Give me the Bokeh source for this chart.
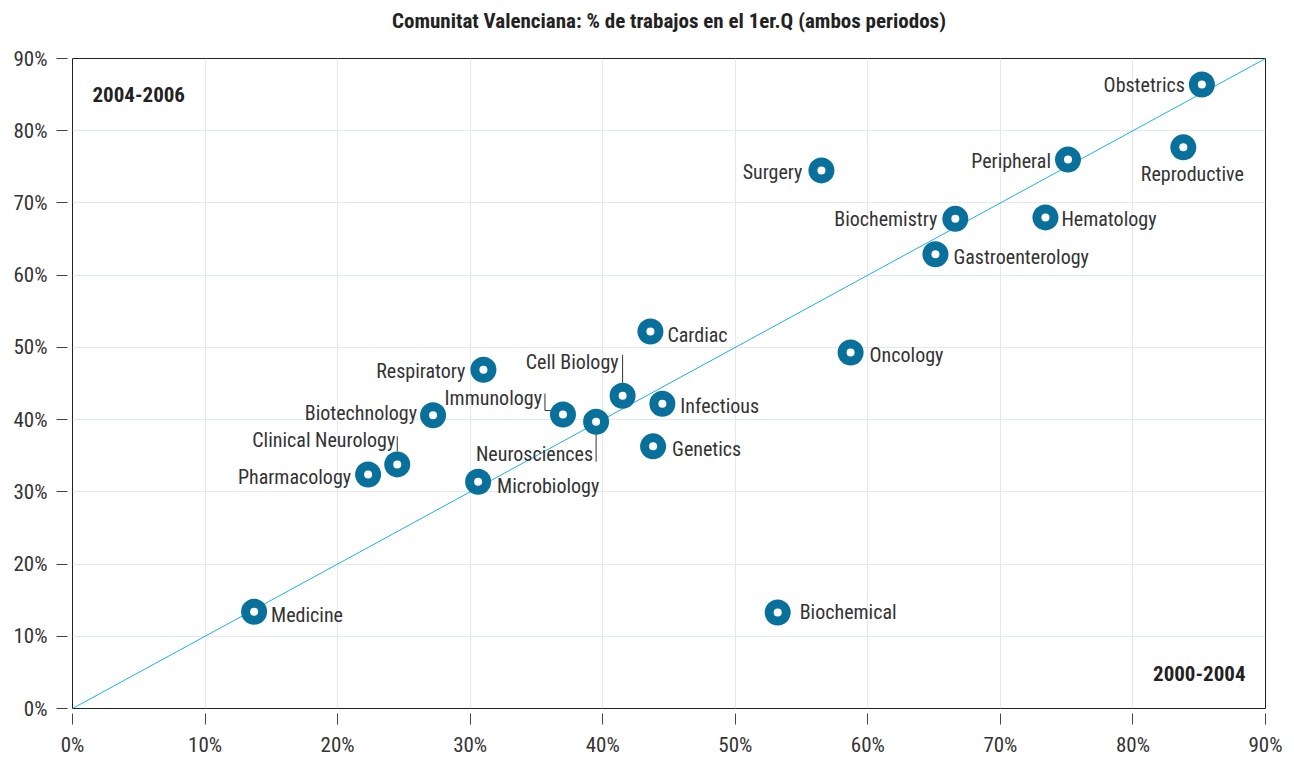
from bokeh.plotting import figure
from bokeh.models import ColumnDataSource, Range1d, FixedTicker, PrintfTickFormatter, Label, LinearAxis
from bokeh.core.properties import value
from bokeh.embed import file_html
from bokeh.resources import INLINE

FONT = "Liberation Sans Narrow, Roboto Condensed, Liberation Sans, sans-serif"

TITLE = "Comunitat Valenciana: % de trabajos en el 1er.Q (ambos periodos)"
names = ["Obstetrics", "Reproductive", "Peripheral", "Surgery", "Biochemistry", "Hematology",
         "Gastroenterology", "Cardiac", "Oncology", "Respiratory", "Cell Biology", "Infectious",
         "Immunology", "Biotechnology", "Neurosciences", "Genetics", "Clinical Neurology",
         "Pharmacology", "Microbiology", "Medicine", "Biochemical"]
x_2000_2004 = [85.2, 83.8, 75.1, 56.5, 66.6, 73.4, 65.1, 43.6, 58.7, 31.0, 41.5, 44.5,
               37.0, 27.2, 39.5, 43.8, 24.5, 22.3, 30.6, 13.7, 53.2]
y_2004_2006 = [86.4, 77.7, 76.0, 74.5, 67.8, 68.0, 62.9, 52.2, 49.3, 46.9, 43.3, 42.2,
               40.7, 40.6, 39.7, 36.3, 33.8, 32.4, 31.4, 13.4, 13.3]
ticks = [0, 10, 20, 30, 40, 50, 60, 70, 80, 90]

# label placement (pixel offsets and alignment) -- style only
label_pos = {
    "Obstetrics": (-17, 0, "right"), "Reproductive": (9, -27, "center"),
    "Peripheral": (-17, -1, "right"), "Surgery": (-19, -2, "right"),
    "Biochemistry": (-18, 0, "right"), "Hematology": (16, -2, "left"),
    "Gastroenterology": (18, -3, "left"), "Cardiac": (17, -3, "left"),
    "Oncology": (19, -3, "left"), "Respiratory": (-18, -1, "right"),
    "Cell Biology": (-4, 34, "right"), "Infectious": (18, -2, "left"),
    "Immunology": (-21, 17, "right"), "Biotechnology": (-16, 2, "right"),
    "Neurosciences": (-3, -32, "right"), "Genetics": (19, -3, "left"),
    "Clinical Neurology": (-2, 24, "right"), "Pharmacology": (-17, -2, "right"),
    "Microbiology": (19, -4, "left"), "Medicine": (17, -3, "left"),
    "Biochemical": (22, 0, "left"),
}

p = figure(width=1292, height=760, output_backend="svg", toolbar_location=None,
           x_range=Range1d(0, 90), y_range=Range1d(0, 90),
           min_border_left=72, min_border_right=27, min_border_top=58, min_border_bottom=52)
p.outline_line_color = "#222222"
p.outline_line_width = 1
p.background_fill_color = "white"
p.border_fill_color = "white"

bottom_axis = p.below[0]
left_axis = p.left[0]

for ax in (bottom_axis, left_axis):
    ax.ticker = FixedTicker(ticks=ticks)
    ax.formatter = PrintfTickFormatter(format="%d%%")
    ax.axis_line_color = None
    ax.major_tick_in = -5
    ax.major_tick_out = 16
    ax.major_tick_line_color = "#444444"
    ax.minor_tick_line_color = None
    ax.major_label_text_font = FONT
    ax.major_label_text_font_size = "21px"
    ax.major_label_text_color = "#333333"
bottom_axis.major_label_standoff = 8
left_axis.major_label_standoff = 9

# title drawn as the label of an empty axis above the frame
title_axis = LinearAxis(ticker=FixedTicker(ticks=[]), axis_line_color=None,
                        major_tick_line_color=None, minor_tick_line_color=None,
                        major_tick_in=0, major_tick_out=0,
                        major_label_text_font_size="0px", major_label_standoff=0,
                        axis_label=TITLE,
                        axis_label_text_font=FONT, axis_label_text_font_size="21px",
                        axis_label_text_font_style="bold", axis_label_text_color="#222222",
                        axis_label_standoff=26)
p.add_layout(title_axis, "above")

p.xgrid.grid_line_color = "#e3e8f4"
p.ygrid.grid_line_color = "#e3e8f4"
p.xgrid.ticker = FixedTicker(ticks=ticks)
p.ygrid.ticker = FixedTicker(ticks=ticks)

# diagonal
p.line([ticks[0], ticks[-1]], [ticks[0], ticks[-1]], line_color="#1cb0ea", line_width=1)

# leader lines (from point positions, with small offsets in data units)
idx = {n: i for i, n in enumerate(names)}
sx = 90 / 1193.0
sy = 90 / 650.0
def pt(n):
    i = idx[n]
    return x_2000_2004[i], y_2004_2006[i]
lines = []
x, y = pt("Cell Biology"); lines.append(([x, x], [y + 13 * sy, y + 41 * sy]))
x, y = pt("Immunology"); lines.append(([x - 12 * sx, x - 18 * sx, x - 18 * sx], [y + 4 * sy, y + 4 * sy, y + 21 * sy]))
x, y = pt("Clinical Neurology"); lines.append(([x, x], [y + 13 * sy, y + 28 * sy]))
x, y = pt("Neurosciences"); lines.append(([x, x], [y - 12 * sy, y - 40 * sy]))
for xs, ys in lines:
    p.line(xs, ys, line_color="#333333", line_width=1)

src = ColumnDataSource(dict(x=x_2000_2004, y=y_2004_2006, name=names))
p.scatter("x", "y", source=src, size=26, fill_color="#08709a", line_color=None)
p.scatter("x", "y", source=src, size=8, fill_color="white", line_color=None)

for n in names:
    x, y = pt(n)
    dx, dy, al = label_pos[n]
    p.add_layout(Label(x=x, y=y, x_offset=dx, y_offset=dy, text=n, text_align=al,
                       text_baseline="middle", text_font=FONT, text_font_size="20px",
                       text_color="#333333"))

p.add_layout(Label(x=0, y=90, x_units="data", x_offset=20, y_offset=-36, text="2004-2006",
                   text_font=FONT, text_font_size="21px", text_font_style="bold",
                   text_color="#222222", text_baseline="middle"))
p.add_layout(Label(x=90, y=0, x_offset=-20, y_offset=35, text="2000-2004", text_align="right",
                   text_font=FONT, text_font_size="21px", text_font_style="bold",
                   text_color="#222222", text_baseline="middle"))

open("out.html", "w").write(file_html(p, INLINE))
